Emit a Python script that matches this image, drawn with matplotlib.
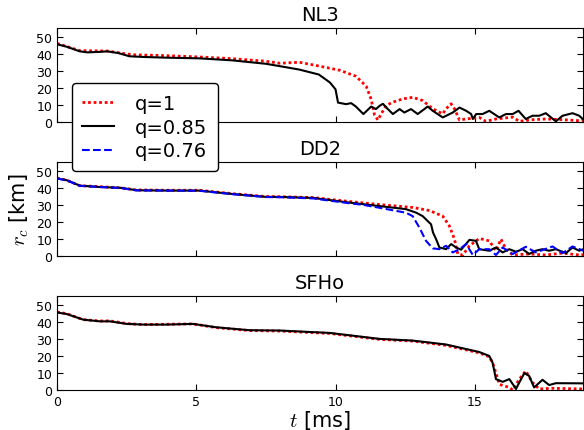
import matplotlib
matplotlib.use("Agg")
import matplotlib.pyplot as plt

plt.rcParams['mathtext.fontset'] = 'cm'
plt.rcParams['xtick.direction'] = 'in'
plt.rcParams['ytick.direction'] = 'in'
plt.rcParams['xtick.top'] = True
plt.rcParams['ytick.right'] = True
plt.rcParams['xtick.major.size'] = 4
plt.rcParams['ytick.major.size'] = 4

# NL3
nl3_t_q1 = [0, 0.82, 1.8, 2.7, 3.9, 5.1, 6.3, 7.5, 8.0, 8.7, 9.43, 10.15, 10.73, 11.1,
            11.28, 11.4, 11.52, 11.64, 11.82, 12.06, 12.42, 12.77, 13.13, 13.49, 13.85,
            13.97, 14.15, 14.27, 14.45, 14.69, 15.16, 15.4, 15.76, 16.36, 16.6, 17.07,
            17.55, 18.15, 18.75, 18.9]
nl3_r_q1 = [46, 41.7, 41.5, 39.3, 38.8, 38, 37, 35.5, 34.3, 34.9, 32.6, 30.2, 26.7, 20.9,
            13.2, 4, 1, 4.6, 9.5, 11.5, 13.4, 14.3, 12.4, 7.6, 4.6,
            7.6, 10.5, 7.6, 1, 1.6, 2.5, 0.2, 1.6, 2.7, 0.2, 1.2,
            1.6, 1.2, 0.6, 0.8]
nl3_t_q085 = [0, 0.35, 0.82, 1.1, 1.54, 1.8, 2.2, 2.6, 3.1, 3.9, 5.1, 6.3, 7.5, 8.0, 8.7,
              9.4, 9.8, 10.0, 10.09, 10.38, 10.56, 10.73, 11.0, 11.28, 11.45, 11.58, 11.7,
              11.88, 12.06, 12.3, 12.47, 12.71, 12.95, 13.31, 13.49, 13.85, 14.21, 14.45,
              14.69, 14.87, 14.93, 15.05, 15.28, 15.52, 15.88, 16.12, 16.36, 16.57, 16.83,
              17.07, 17.31, 17.55, 17.91, 18.15, 18.51, 18.75, 18.9]
nl3_r_q085 = [45.5, 44, 41.3, 40.7, 41, 41.3, 40.3, 38.4, 38, 37.6, 37.2, 36, 34, 32.6, 30.6,
              27.7, 23, 19, 11.2, 10.3, 10.9, 8.9, 4.5, 8.9, 7.4, 9.3, 10.5,
              7.4, 4.5, 7.4, 5.4, 7.4, 4.5, 8.9, 6.4, 2.5, 5.4, 8.3,
              6.4, 4.5, 1.6, 4.5, 4.5, 6.4, 2.5, 4.5, 4.5, 6.4, 1.6,
              3.5, 3.5, 5.0, 0.2, 3.5, 5.0, 3.5, 1.2]

# DD2
dd2_t_q1 = [0, 0.35, 0.82, 1.54, 2.3, 2.85, 4.0, 5.1, 6.3, 7.5, 8.0, 9.2, 10.38, 11.58,
            12.77, 13.37, 13.85, 14.09, 14.27, 14.39, 14.57, 14.81, 15.16, 15.52, 15.76,
            15.94, 16.12, 16.36, 16.95, 17.55, 18.15, 18.75, 18.9]
dd2_r_q1 = [45.8, 44.5, 41.3, 40.7, 40, 38.8, 38.6, 38.6, 36.6, 34.9, 34.8, 34.3, 32.2, 30.2,
            28.5, 26.7, 23.4, 17.6, 9.9, 1.2, 0.6, 6, 10.3, 8.9, 3.1,
            9.9, 4, 0.6, 1.2, 0.6, 1.7, 0.6, 0.8]
dd2_t_q085 = [0, 0.35, 0.82, 1.54, 2.3, 2.85, 4.0, 5.1, 6.3, 7.5, 8.0, 9.2, 10.38, 11.58,
              12.53, 12.9, 13.13, 13.31, 13.43, 13.5, 13.61, 13.73, 13.97, 14.15, 14.33,
              14.51, 14.81, 15.04, 15.16, 15.52, 15.76, 16.0, 16.24, 16.48, 16.72, 16.95,
              17.19, 17.43, 17.67, 17.91, 18.27, 18.51, 18.75, 18.9]
dd2_r_q085 = [45.5, 44.5, 41.3, 40.5, 40, 38.6, 38.4, 38.4, 36.4, 34.7, 34.7, 34.1, 31.6, 29.3,
              27.5, 25.4, 23.4, 20.5, 18.6, 13.8, 9.9, 5, 4, 7, 5,
              3.7, 9.5, 8.9, 4, 3.1, 5, 2.1, 4, 2.5, 4, 1.2,
              3.1, 4, 3.1, 4, 1.7, 5, 3.1, 4]
dd2_t_q076 = [0, 0.35, 0.82, 1.54, 2.3, 2.85, 4.0, 5.1, 6.3, 7.5, 8.0, 9.2, 10.38, 11.0,
              11.58, 12.53, 12.77, 13.01, 13.25, 13.49, 13.73, 13.97, 14.21, 14.45, 14.69,
              14.93, 15.16, 15.52, 15.76, 16.0, 16.36, 16.83, 17.19, 17.79, 18.15, 18.51, 18.9]
dd2_r_q076 = [45.5, 44.4, 41.2, 40.5, 39.9, 38.5, 38.4, 38.3, 36.3, 34.6, 34.5, 33.8, 31.2, 30.0,
              28.3, 25.4, 23.4, 16.7, 8.9, 4.5, 4, 6, 2.1, 4, 7,
              0.6, 4, 4, 0.6, 5, 1.2, 5.4, 2.1, 5.6, 1.7, 5.6, 3.1]

# SFHo
sfho_t_q1 = [0, 0.35, 0.94, 1.54, 1.9, 2.5, 3.1, 3.93, 4.88, 5.72, 6.9, 8.0, 9.79, 11.58,
             12.77, 13.97, 15.16, 15.52, 15.64, 15.76, 15.88, 16.24, 16.36, 16.6, 16.83,
             17.07, 17.31, 17.79, 18.9]
sfho_r_q1 = [45.8, 44.8, 41.3, 40.5, 40.6, 39.0, 38.4, 38.6, 38.8, 36.6, 34.9, 34.6, 33.2, 29.7,
             28.7, 26.2, 21.8, 19.5, 16, 10, 3.3, 1.5, 0, 6.4, 11.2,
             4.5, 0.6, 1, 0.6]
sfho_t_q085 = [0, 0.35, 0.94, 1.54, 1.9, 2.5, 3.1, 3.93, 4.88, 5.72, 6.9, 8.0, 9.79, 11.58,
               12.77, 13.97, 15.16, 15.52, 15.64, 15.76, 16.0, 16.24, 16.48, 16.6, 16.78,
               16.95, 17.13, 17.43, 17.67, 17.91, 18.9]
sfho_r_q085 = [45.5, 44.6, 41.3, 40.3, 40.3, 38.8, 38.4, 38.4, 38.8, 36.8, 35.1, 34.9, 33.5, 30,
               29, 26.7, 22.3, 20, 16, 6.4, 4.8, 6.4, 0.6, 4.5, 9.9,
               8.3, 1.5, 6, 2.9, 4, 3.9]

titles = ['NL3', 'DD2', 'SFHo']
labels = ['q=1', 'q=0.85', 'q=0.76']

dots = (0, (1, 1))

fig = plt.figure(figsize=(5.84, 4.31), dpi=100)
bottoms = [0.7153, 0.4037, 0.0928]
axes = [fig.add_axes([0.0976, b, 0.9014, 0.2174]) for b in bottoms]

ax = axes[0]
ax.plot(nl3_t_q1, nl3_r_q1, color='red', ls=dots, lw=2, label=labels[0])
ax.plot(nl3_t_q085, nl3_r_q085, color='black', ls='-', lw=1.5, label=labels[1])
ax.plot([], [], color='blue', ls='--', lw=1.5, label=labels[2])

ax = axes[1]
ax.plot(dd2_t_q1, dd2_r_q1, color='red', ls=dots, lw=2)
ax.plot(dd2_t_q085, dd2_r_q085, color='black', ls='-', lw=1.5)
ax.plot(dd2_t_q076, dd2_r_q076, color='blue', ls='--', lw=1.5)

ax = axes[2]
ax.plot(sfho_t_q1, sfho_r_q1, color='red', ls=dots, lw=2)
ax.plot(sfho_t_q085, sfho_r_q085, color='black', ls='-', lw=1.5)

for ax, title in zip(axes, titles):
    ax.set_xlim(0, 18.9)
    ax.set_ylim(0, 55)
    ax.set_yticks([0, 10, 20, 30, 40, 50])
    ax.set_xticks([0, 5, 10, 15])
    ax.tick_params(labelsize=9)
    ax.set_title(title, fontsize=14)
for ax in axes[:2]:
    ax.set_xticklabels([])

axes[2].set_xlabel('$t$ [ms]', fontsize=15, labelpad=0)
axes[1].set_ylabel('$r_c$ [km]', fontsize=15)

# legend sits over the DD2 panel, so the top axes go in front
axes[0].set_zorder(5)
leg = axes[0].legend(loc='upper left', bbox_to_anchor=(0.028, 0.413), borderaxespad=0,
                     fontsize=14, handlelength=1.6, handletextpad=1.1, borderpad=0.55,
                     labelspacing=0.25, fancybox=True, framealpha=1, edgecolor='black')

fig.savefig('out.png', dpi=100)
